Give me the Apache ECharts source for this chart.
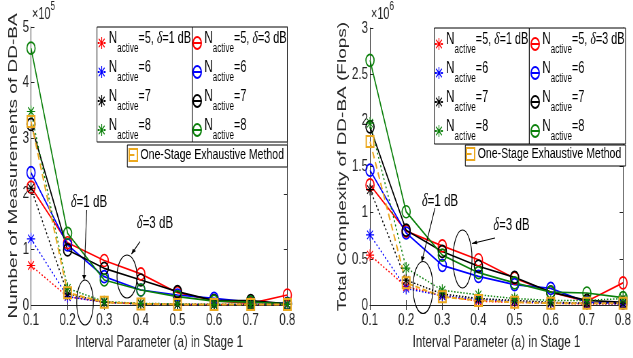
<!DOCTYPE html>
<html><head><meta charset="utf-8">
<script src="https://cdn.jsdelivr.net/npm/echarts@6/dist/echarts.min.js"></script>
<style>
html,body{margin:0;padding:0;background:#fff;overflow:hidden;width:633px;height:358px}
#c{width:931px;height:358px;transform:scaleX(0.68);transform-origin:0 0;}
</style>
</head><body><div id="c"></div>
<script>
// ---------------- DATA ----------------
const categories = ['0.1','0.2','0.3','0.4','0.5','0.6','0.7','0.8'];
const nActive = [5, 6, 7, 8];

// Left: Number of Measurements of DD-BA (x1e5)
const measD3N5 = [2.12, 1.12, 0.80, 0.56, 0.22, 0.08, 0.03, 0.18];
const measD3N6 = [2.38, 1.08, 0.51, 0.27, 0.18, 0.12, 0.05, 0.03];
const measD3N7 = [3.25, 0.99, 0.66, 0.45, 0.24, 0.08, 0.08, 0.02];
const measD3N8 = [4.62, 1.29, 0.45, 0.27, 0.15, 0.07, 0.05, 0.02];
const measD1N5 = [0.71, 0.15, 0.05, 0.02, 0.01, 0.01, 0.01, 0.01];
const measD1N6 = [1.19, 0.15, 0.05, 0.02, 0.01, 0.01, 0.01, 0.01];
const measD1N7 = [2.10, 0.20, 0.05, 0.02, 0.01, 0.01, 0.01, 0.01];
const measD1N8 = [3.48, 0.30, 0.06, 0.03, 0.02, 0.01, 0.01, 0.01];
const measExh  = [3.30, 0.22, 0.05, 0.02, 0.01, 0.01, 0.01, 0.01];

// Right: Total Complexity of DD-BA (Flops) (x1e6)
const cplxD3N5 = [1.30, 0.80, 0.64, 0.49, 0.29, 0.14, 0.04, 0.24];
const cplxD3N6 = [1.46, 0.78, 0.43, 0.31, 0.22, 0.18, 0.03, 0.02];
const cplxD3N7 = [1.93, 0.81, 0.58, 0.42, 0.30, 0.14, 0.05, 0.03];
const cplxD3N8 = [2.65, 1.01, 0.54, 0.35, 0.24, 0.14, 0.13, 0.08];
const cplxD1N5 = [0.54, 0.20, 0.10, 0.04, 0.03, 0.02, 0.01, 0.01];
const cplxD1N6 = [0.76, 0.18, 0.10, 0.06, 0.04, 0.02, 0.02, 0.01];
const cplxD1N7 = [1.25, 0.27, 0.12, 0.07, 0.05, 0.03, 0.02, 0.02];
const cplxD1N8 = [1.97, 0.40, 0.16, 0.11, 0.07, 0.05, 0.05, 0.07];
const cplxExh  = [1.77, 0.24, 0.09, 0.05, 0.03, 0.02, 0.02, 0.02];

const xTitle = 'Interval Parameter (a) in Stage 1';
const yTitleLeft = 'Number of Measurements of DD-BA';
const yTitleRight = 'Total Complexity of DD-BA (Flops)';
const exhLabel = 'One-Stage Exhaustive Method';

// ---------------- STYLE ----------------
const S = 0.68;               // horizontal compression of the figure
const FONT = 'Liberation Sans, Arial, Helvetica, sans-serif';
const SERIF = 'Liberation Serif, Times New Roman, serif';
const TXT = '#262626';
const colors = ['#ff0000', '#0000ff', '#000000', '#0a800a'];
const EXH = '#EBA81E';
const STAR = 'path://M9,0H11V20H9Z M0,9H20V11H0Z M3.64,2.22L17.78,16.36L16.36,17.78L2.22,3.64Z M17.78,3.64L3.64,17.78L2.22,16.36L16.36,2.22Z';

const legendText = {};
nActive.forEach((n, i) => {
  legendText['d1_' + n] = i === 0 ? '{n|N}{s|active}{t|=5, }{d|δ}{t|=1 dB}' : '{n|N}{s|active}{t|=' + n + '}';
  legendText['d3_' + n] = i === 0 ? '{n|N}{s|active}{t|=5, }{d|δ}{t|=3 dB}' : '{n|N}{s|active}{t|=' + n + '}';
});
legendText['exh'] = '{e|' + exhLabel + '}';

const richLegend = {
  n: {fontSize: 17, lineHeight: 17, padding: [0, 0, 9, 0], fontFamily: FONT, color: '#000'},
  t: {fontSize: 16, lineHeight: 17, padding: [0, 0, 9, 0], fontFamily: FONT, color: '#000'},
  d: {fontSize: 17, lineHeight: 17, padding: [0, 0, 9, 0], fontFamily: SERIF, fontStyle: 'italic', color: '#000'},
  s: {fontSize: 12, lineHeight: 12, padding: [12, 0, 0, 0], fontFamily: FONT, color: '#000'},
  e: {fontSize: 15.5, lineHeight: 18, fontFamily: FONT, color: '#000'}
};

function buildSeries(xi, yi, d3, d1, ex) {
  const out = [];
  nActive.forEach((n, i) => {
    out.push({
      name: 'd3_' + n, type: 'line', xAxisIndex: xi, yAxisIndex: yi, data: d3[i],
      symbol: 'circle', symbolSize: 12,
      itemStyle: {color: 'rgba(0,0,0,0)', borderColor: colors[i], borderWidth: 1.7},
      lineStyle: {color: colors[i], width: 1.7, type: 'solid'}, z: 3
    });
  });
  nActive.forEach((n, i) => {
    out.push({
      name: 'd1_' + n, type: 'line', xAxisIndex: xi, yAxisIndex: yi, data: d1[i],
      symbol: STAR, symbolSize: 12,
      itemStyle: {color: colors[i], borderWidth: 0},
      lineStyle: {color: colors[i], width: 1.5, type: [2, 2.5]}, z: 3
    });
  });
  out.push({
    name: 'exh', type: 'line', xAxisIndex: xi, yAxisIndex: yi, data: ex,
    symbol: 'rect', symbolSize: 11,
    itemStyle: {color: 'rgba(0,0,0,0)', borderColor: EXH, borderWidth: 2},
    lineStyle: {color: EXH, width: 2, type: [7, 4]}, z: 3
  });
  out.forEach(s => { s.animation = false; s.emphasis = {disabled: true}; });
  return out;
}

const axisLineStyle = {show: true, lineStyle: {color: TXT, width: 1}};
const tickStyle = {show: true, inside: true, length: 5, interval: 0, lineStyle: {color: TXT}};
const labelStyle = {color: TXT, fontSize: 17, fontFamily: FONT};

function xAxes(gi) {
  return [
    {gridIndex: gi, type: 'category', data: categories, boundaryGap: false, position: 'bottom',
     axisLine: axisLineStyle, axisTick: tickStyle,
     axisLabel: Object.assign({interval: 0, margin: 7}, labelStyle),
     splitLine: {show: false},
     name: xTitle, nameLocation: 'middle', nameGap: 29,
     nameTextStyle: {color: TXT, fontSize: 17, fontFamily: FONT}},
    {gridIndex: gi, type: 'category', data: categories, boundaryGap: false, position: 'top',
     axisLine: axisLineStyle, axisTick: tickStyle, axisLabel: {show: false}, splitLine: {show: false}}
  ];
}
function yAxes(gi, max, interval, name, gap) {
  return [
    {gridIndex: gi, type: 'value', min: 0, max: max, interval: interval, position: 'left',
     axisLine: axisLineStyle, axisTick: tickStyle,
     axisLabel: Object.assign({margin: 3}, labelStyle),
     splitLine: {show: false},
     name: name, nameLocation: 'middle', nameGap: gap,
     nameTextStyle: {color: TXT, fontSize: 19, fontFamily: FONT}},
    {gridIndex: gi, type: 'value', min: 0, max: max, interval: interval, position: 'right',
     axisLine: axisLineStyle, axisTick: tickStyle, axisLabel: {show: false}, splitLine: {show: false}}
  ];
}

function legendBlock(names, left, top) {
  return {
    data: names, orient: 'vertical', left: left, top: top, padding: 0,
    itemGap: 3, itemWidth: 11, itemHeight: 15, selectedMode: false,
    formatter: name => legendText[name],
    textStyle: {rich: richLegend}, z: 6
  };
}
const d1Names = nActive.map(n => 'd1_' + n);
const d3Names = nActive.map(n => 'd3_' + n);

function box(x1, y1, x2, y2) {
  return {type: 'rect', z: 5, shape: {x: x1 / S, y: y1, width: (x2 - x1) / S, height: y2 - y1},
          style: {fill: '#fff', stroke: '#000', lineWidth: 1}};
}
function ellipse(cx, cy, rx, ry) {
  return {type: 'ellipse', z: 7, shape: {cx: cx / S, cy: cy, rx: rx / S, ry: ry},
          style: {fill: 'none', stroke: '#000', lineWidth: 1.2}};
}
function arrow(x1, y1, x2, y2) {
  const dx = x2 - x1, dy = y2 - y1, L = Math.sqrt(dx * dx + dy * dy);
  const ux = dx / L, uy = dy / L, h = 5, w = 2;
  const bx = x2 - ux * h, by = y2 - uy * h;
  const pts = [[x2, y2], [bx - uy * w, by + ux * w], [bx + uy * w, by - ux * w]].map(p => [p[0] / S, p[1]]);
  return [
    {type: 'line', z: 7, shape: {x1: x1 / S, y1: y1, x2: x2 / S, y2: y2}, style: {stroke: '#000', lineWidth: 1.1}},
    {type: 'polygon', z: 7, shape: {points: pts}, style: {fill: '#000'}}
  ];
}
function note(cx, cy, str) {
  return {type: 'text', z: 7, x: cx / S, y: cy,
          style: {text: str, align: 'center', verticalAlign: 'middle',
                  rich: {d: {fontSize: 18, fontFamily: SERIF, fontStyle: 'italic', fill: '#000'},
                         t: {fontSize: 17, fontFamily: FONT, fill: '#000'}}}};
}
function expo(x, p) {
  return {type: 'text', z: 7, x: x / S, y: 3,
          style: {text: '{a|×10}{b|' + p + '}', align: 'left', verticalAlign: 'top',
                  rich: {a: {fontSize: 16, lineHeight: 16, padding: [8, 0, 0, 0], fontFamily: FONT, fill: TXT},
                         b: {fontSize: 12, lineHeight: 12, padding: [0, 0, 8, 0], fontFamily: FONT, fill: TXT}}}};
}

const graphics = [
  box(97, 27, 192.3, 142), box(192.3, 27, 287.3, 142), box(127.3, 145, 287.3, 167),
  box(434.3, 28, 529.3, 144), box(529.3, 28, 625.5, 144), box(465.3, 145, 625.5, 166),
  ellipse(85, 302.5, 8.3, 22.5), ellipse(127, 276.5, 10, 21.5),
  ellipse(423, 287.5, 10, 26), ellipse(462.5, 259, 9.5, 29),
  note(89, 202, '{d|δ}{t|=1 dB}'), note(155, 223, '{d|δ}{t|=3 dB}'),
  note(440, 201, '{d|δ}{t|=1 dB}'), note(511.5, 225, '{d|δ}{t|=3 dB}'),
  expo(32, 5), expo(371, 6)
].concat(
  arrow(86.7, 210, 84, 280), arrow(140, 241.7, 131.5, 254),
  arrow(435, 208, 421.7, 261.7), arrow(495, 238, 472, 243.5)
);

const option = {
  animation: false,
  backgroundColor: '#fff',
  grid: [
    {left: 31 / S, right: 931 - 287.3 / S, top: 27, bottom: 53, show: false},
    {left: 370 / S, right: 931 - 626 / S, top: 28, bottom: 53, show: false}
  ],
  xAxis: xAxes(0).concat(xAxes(1)),
  yAxis: yAxes(0, 5, 1, yTitleLeft, 6).concat(yAxes(1, 3, 0.5, yTitleRight, 24)),
  legend: [
    legendBlock(d1Names, 143, 30), legendBlock(d3Names, 283, 30), legendBlock(['exh'], 189, 147),
    legendBlock(d1Names, 639, 31), legendBlock(d3Names, 780, 31), legendBlock(['exh'], 685, 146)
  ],
  series: buildSeries(0, 0, [measD3N5, measD3N6, measD3N7, measD3N8], [measD1N5, measD1N6, measD1N7, measD1N8], measExh)
    .concat(buildSeries(2, 2, [cplxD3N5, cplxD3N6, cplxD3N7, cplxD3N8], [cplxD1N5, cplxD1N6, cplxD1N7, cplxD1N8], cplxExh)),
  graphic: graphics
};

const chart = echarts.init(document.getElementById('c'), null, {renderer: 'canvas'});
chart.setOption(option);
</script>
</body></html>
